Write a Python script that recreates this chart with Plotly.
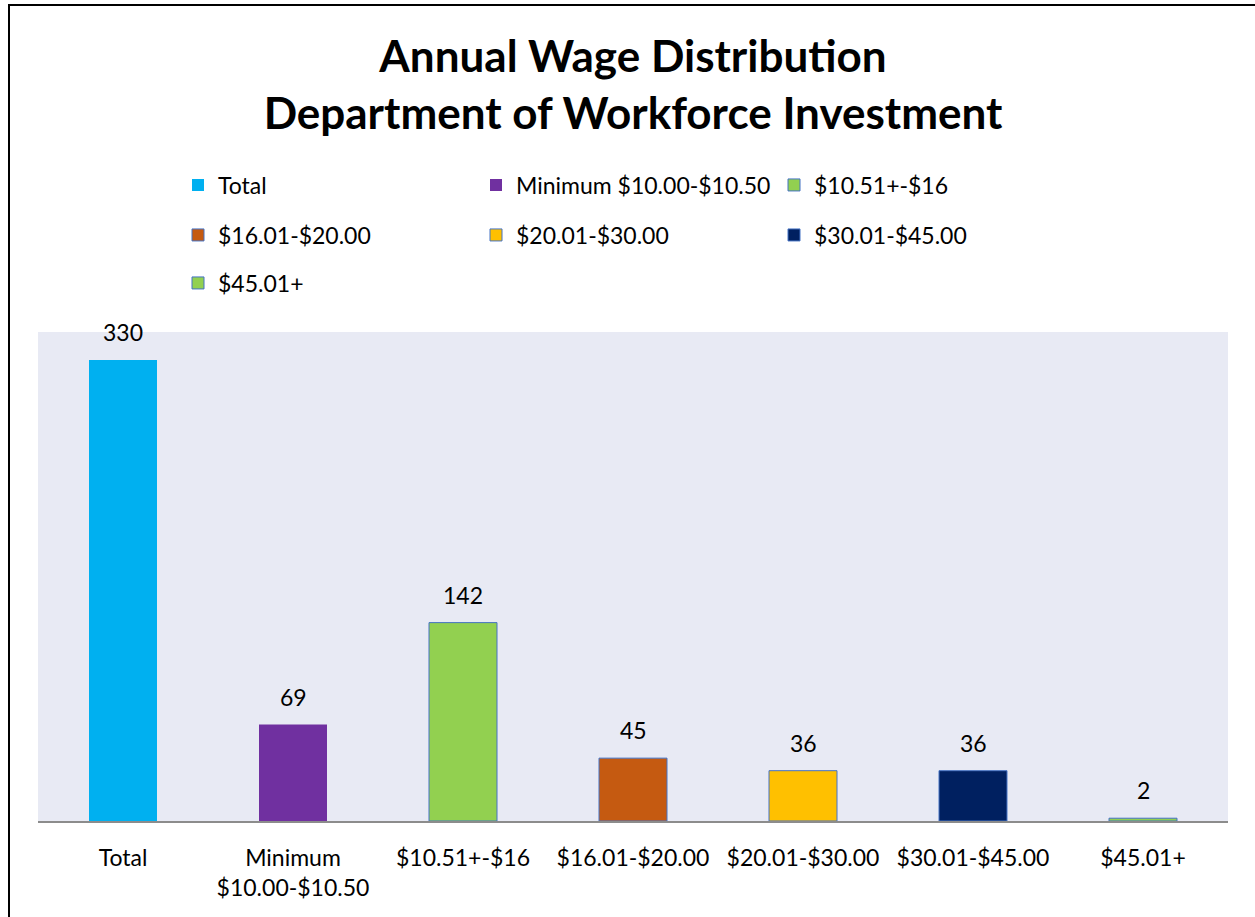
import plotly.graph_objects as go

# ---- data ----
categories = ["Total", "Minimum $10.00-$10.50", "$10.51+-$16", "$16.01-$20.00",
              "$20.01-$30.00", "$30.01-$45.00", "$45.01+"]
axis_labels = ["Total", "Minimum<br>$10.00-$10.50", "$10.51+-$16", "$16.01-$20.00",
               "$20.01-$30.00", "$30.01-$45.00", "$45.01+"]
values = [330, 69, 142, 45, 36, 36, 2]
colors = ["#00B0F0", "#7030A0", "#92D050", "#C55A11", "#FFC000", "#002060", "#92D050"]
outlined = [False, False, True, True, True, True, True]

W, H = 1255, 917
ML, MR, MT, MB = 38, 27, 332, 96
PW = W - ML - MR
PH = H - MT - MB
FONT = "Lato, 'Open Sans', sans-serif"

def px2px_x(px):
    return (px - ML) / PW

def px2px_y(py):
    return (H - MB - py) / PH

legend_ids = ["legend", "legend2", "legend3"]

fig = go.Figure()
for i, (cat, val, col, ol) in enumerate(zip(categories, values, colors, outlined)):
    fig.add_trace(go.Bar(
        x=[cat], y=[val], name=cat, width=0.4,
        marker=dict(color=col, line=dict(color="#4472C4" if ol else col, width=1 if ol else 0)),
        legend=legend_ids[i // 3],
        hoverinfo="x+y",
    ))
    fig.add_annotation(x=cat, y=val, text=str(val), showarrow=False,
                       yanchor="bottom", yshift=12,
                       font=dict(family=FONT, size=23, color="#000000"))

row_y = [185, 235, 283]
legend_common = dict(orientation="h", xanchor="left", yanchor="middle",
                     x=px2px_x(178), font=dict(family=FONT, size=23, color="#000000"),
                     entrywidth=253, entrywidthmode="pixels", bgcolor="rgba(0,0,0,0)",
                     itemclick=False, itemdoubleclick=False, traceorder="normal")

fig.update_layout(
    width=W, height=H,
    margin=dict(l=ML, r=MR, t=MT, b=MB),
    paper_bgcolor="#FFFFFF",
    plot_bgcolor="#E8EAF4",
    barmode="overlay",
    showlegend=True,
    title=dict(text="<b>Annual Wage Distribution<br>Department of Workforce Investment</b>",
               x=0.5, xref="paper", xanchor="center",
               y=1 - 72 / H, yref="container", yanchor="middle",
               font=dict(family=FONT, size=44, color="#000000")),
    legend=dict(legend_common, y=px2px_y(row_y[0])),
    legend2=dict(legend_common, y=px2px_y(row_y[1])),
    legend3=dict(legend_common, y=px2px_y(row_y[2])),
    xaxis=dict(categoryorder="array", categoryarray=categories,
               tickvals=categories, ticktext=axis_labels,
               showline=True, linecolor="#8C8C8C", linewidth=2,
               showgrid=False, ticks="", ticklabelstandoff=15,
               tickfont=dict(family=FONT, size=23, color="#000000"),
               fixedrange=True),
    yaxis=dict(range=[0, 350], visible=False, showgrid=False, fixedrange=True),
    shapes=[dict(type="rect", xref="paper", yref="paper",
                 x0=px2px_x(9), x1=px2px_x(1262), y0=px2px_y(925), y1=px2px_y(5),
                 line=dict(color="#000000", width=2), fillcolor="rgba(0,0,0,0)",
                 layer="above")],
)

fig.write_html("out.html")
